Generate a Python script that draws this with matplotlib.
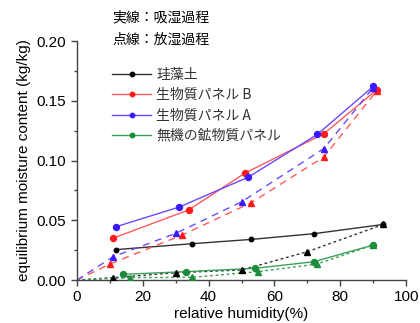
import matplotlib
matplotlib.use("Agg")
import matplotlib.pyplot as plt
from matplotlib.ticker import MultipleLocator
from matplotlib.lines import Line2D

plt.rcParams['font.family'] = ['Liberation Sans', 'Noto Sans CJK JP', 'DejaVu Sans']

# Adsorption (solid, circles)
diat_ads_x = [12, 35, 53, 72, 93]
diat_ads_y = [0.0255, 0.0304, 0.034, 0.0388, 0.0465]
bioB_ads_x = [11, 34, 51, 75, 91]
bioB_ads_y = [0.035, 0.0587, 0.0894, 0.1224, 0.159]
bioA_ads_x = [12, 31, 52, 73, 90]
bioA_ads_y = [0.0447, 0.061, 0.086, 0.1218, 0.162]
mine_ads_x = [14, 33, 54, 72, 90]
mine_ads_y = [0.0048, 0.007, 0.0098, 0.0153, 0.0293]

# Desorption (dotted/dashed, triangles)
diat_des_x = [0, 11, 30, 50, 70, 93]
diat_des_y = [0.0, 0.002, 0.0061, 0.0084, 0.0237, 0.0465]
bioB_des_x = [0, 10, 32, 53, 75, 91]
bioB_des_y = [0.0, 0.0134, 0.0377, 0.0648, 0.103, 0.158]
bioA_des_x = [0, 11, 30, 50, 75, 90]
bioA_des_y = [0.0, 0.0195, 0.039, 0.0654, 0.110, 0.161]
mine_des_x = [0, 16, 35, 55, 73, 90]
mine_des_y = [0.0, 0.002, 0.0023, 0.007, 0.0134, 0.0293]

labels = ["珪藻土", "生物質パネル B", "生物質パネル A", "無機の鉱物質パネル"]
colors = ["#000000", "#ff1a1a", "#3a1aff", "#1a8c3a"]
line_colors = ["#333333", "#ff5a5a", "#6a4aff", "#3aa05a"]

fig = plt.figure(figsize=(4.2, 3.23), dpi=100)
ax = fig.add_axes([0.183, 0.133, 0.784, 0.74])

ads = [(diat_ads_x, diat_ads_y), (bioB_ads_x, bioB_ads_y), (bioA_ads_x, bioA_ads_y), (mine_ads_x, mine_ads_y)]
des = [(diat_des_x, diat_des_y), (bioB_des_x, bioB_des_y), (bioA_des_x, bioA_des_y), (mine_des_x, mine_des_y)]
des_styles = [(0, (2, 2)), (0, (5, 4)), (0, (5, 4)), (0, (2, 2))]

for i in range(4):
    ms = 3.2 if i == 0 else 4.3
    ax.plot(ads[i][0], ads[i][1], color=line_colors[i], lw=1.0, zorder=2)
    ax.plot(ads[i][0], ads[i][1], ls='none', marker='o', ms=ms, color=colors[i], zorder=3)
    ax.plot(des[i][0], des[i][1], color=line_colors[i], lw=1.0, ls=des_styles[i], zorder=2)
    ax.plot(des[i][0][1:], des[i][1][1:], ls='none', marker='^', ms=4.3, color=colors[i], zorder=3)

ax.set_xlim(0, 100)
ax.set_ylim(0, 0.20)
ax.xaxis.set_major_locator(MultipleLocator(20))
ax.xaxis.set_minor_locator(MultipleLocator(10))
ax.yaxis.set_major_locator(MultipleLocator(0.05))
ax.yaxis.set_minor_locator(MultipleLocator(0.025))
ax.set_yticklabels(["%.2f" % v for v in ax.get_yticks()])
ax.spines['top'].set_visible(False)
ax.spines['right'].set_visible(False)
for s in ['left', 'bottom']:
    ax.spines[s].set_color('#444444')
    ax.spines[s].set_linewidth(1.0)
ax.tick_params(which='major', direction='out', length=4, width=1, colors='#444444', labelsize=11, labelcolor='black')
ax.tick_params(which='minor', direction='out', length=2.5, width=1, colors='#444444')
ax.set_xlabel("relative humidity(%)", fontsize=11, labelpad=2)
ax.set_ylabel("equilibrium moisture content (kg/kg)", fontsize=11, labelpad=4)

handles = [Line2D([0], [0], color=line_colors[i], lw=1.0, marker='o', ms=3.2,
                  markerfacecolor=colors[i], markeredgecolor=colors[i]) for i in range(4)]
leg = ax.legend(handles, labels, loc='upper left', bbox_to_anchor=(0.07, 0.94),
                frameon=False, handlelength=2.8, handletextpad=0.35,
                labelspacing=0.45, prop={'family': ['Noto Sans CJK JP'], 'size': 10})
for t in leg.get_texts():
    t.set_color('#333333')

fig.text(0.268, 0.945, "実線：吸湿過程", fontsize=10, family=['Noto Sans CJK JP'], va='center')
fig.text(0.268, 0.876, "点線：放湿過程", fontsize=10, family=['Noto Sans CJK JP'], va='center')

fig.savefig("out.png", dpi=100)
